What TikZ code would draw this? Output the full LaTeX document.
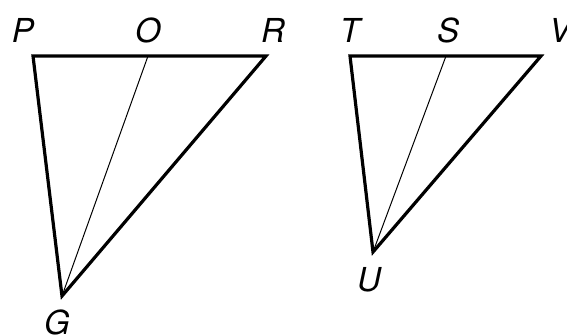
\documentclass[tikz,border=0pt]{standalone}
\usepackage{fontspec}
\setmainfont{TeX Gyre Heros}
\begin{document}
\begin{tikzpicture}[x=1pt,y=-1pt,
  thickside/.style={line width=3.2pt,line join=miter},
  thinside/.style={line width=1pt},
  lbl/.style={font=\fontsize{33}{33}\selectfont\itshape,inner sep=0pt,anchor=center}]
\useasboundingbox (0,0) rectangle (567,335);
\clip (0,0) rectangle (567,335);
\coordinate (P) at (33,56);
\coordinate (O) at (148,56);
\coordinate (R) at (266,56);
\coordinate (G) at (62,296);
\coordinate (T) at (350,56);
\coordinate (S) at (446,56);
\coordinate (V) at (541,56);
\coordinate (U) at (373,252);
\draw[thickside] (P) -- (R) -- (G) -- cycle;
\draw[thinside] (O) -- (G);
\draw[thickside] (T) -- (V) -- (U) -- cycle;
\draw[thinside] (S) -- (U);
\node[lbl] (lP) at (23,30) {P};
\node[lbl] (lO) at (148,30) {O};
\node[lbl] (lR) at (273,30) {R};
\node[lbl] (lG) at (57,322) {G};
\node[lbl] (lT) at (350,30) {T};
\node[lbl] (lS) at (448,30) {S};
\node[lbl] (lV) at (560,30) {V};
\node[lbl] (lU) at (369,280) {U};
\end{tikzpicture}
\end{document}
